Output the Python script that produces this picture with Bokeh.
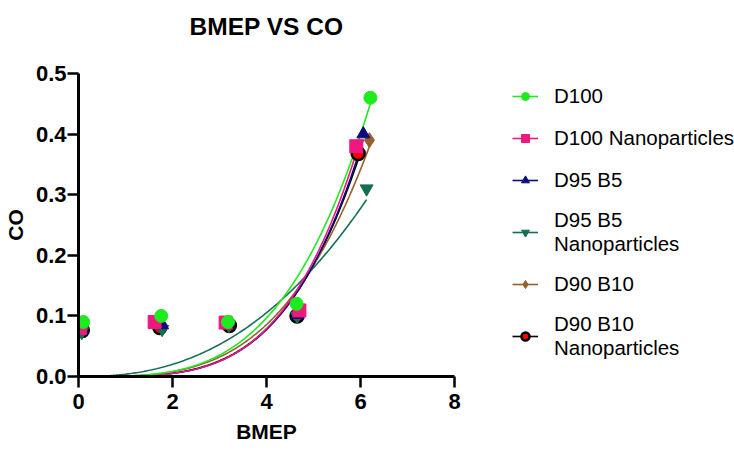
import numpy as np
from bokeh.plotting import figure
from bokeh.layouts import row
from bokeh.models import (Legend, LegendItem, Range1d, FixedTicker, Title,
                          NumeralTickFormatter, ColumnDataSource)
from bokeh.embed import file_html
from bokeh.resources import INLINE

# BMEP (x) and CO (y) readings for each fuel blend
bmep_d100 = [0.10, 1.76, 3.18, 4.64, 6.21]
co_d100 = [0.090, 0.100, 0.090, 0.120, 0.460]

bmep_d100_np = [0.03, 1.62, 3.13, 4.70, 5.91]
co_d100_np = [0.080, 0.090, 0.089, 0.109, 0.380]

bmep_d95b5 = [0.08, 1.78, 3.20, 4.66, 6.06]
co_d95b5 = [0.077, 0.085, 0.085, 0.102, 0.400]

bmep_d95b5_np = [0.07, 1.78, 3.20, 4.65, 6.13]
co_d95b5_np = [0.073, 0.078, 0.085, 0.100, 0.310]

bmep_d90b10 = [0.10, 1.78, 3.20, 4.66, 6.19]
co_d90b10 = [0.080, 0.085, 0.085, 0.102, 0.390]

bmep_d90b10_np = [0.08, 1.73, 3.21, 4.65, 5.95]
co_d90b10_np = [0.076, 0.081, 0.084, 0.100, 0.368]

series_names = ["D100", "D100 Nanoparticles", "D95 B5",
                "D95 B5\nNanoparticles", "D90 B10", "D90 B10\nNanoparticles"]

x_ticks = [0, 2, 4, 6, 8]
y_ticks = [0.0, 0.1, 0.2, 0.3, 0.4, 0.5]

FONT = "'Liberation Sans', Arial, sans-serif"


def power_fit(x, y):
    """Least-squares fit of y = a * x**b (grid over b, closed form for a)."""
    x = np.asarray(x, dtype=float)
    y = np.asarray(y, dtype=float)
    best = None
    for b in np.arange(1.0, 8.0, 0.01):
        xb = x ** b
        a = (y * xb).sum() / (xb * xb).sum()
        sse = ((y - a * xb) ** 2).sum()
        if best is None or sse < best[0]:
            best = (sse, a, b)
    return best[1], best[2]


# ---- main chart ----
p = figure(width=480, height=452, output_backend="svg", toolbar_location=None,
           x_range=Range1d(0, 8), y_range=Range1d(0, 0.5),
           min_border_left=78, min_border_right=26,
           min_border_top=73, min_border_bottom=76)

p.title.text = "BMEP VS CO"
p.title.align = "center"
p.title.text_font = FONT
p.title.text_font_size = "24.5px"
p.title.text_font_style = "bold"
p.title.text_color = "black"
p.title.standoff = 20

# blank gap between the frame and the title
p.add_layout(Title(text=" ", text_font_size="1px", standoff=21), "above")

p.outline_line_color = None
p.background_fill_color = "white"
p.border_fill_color = "white"
p.grid.visible = False

for ax in (p.xaxis[0], p.yaxis[0]):
    ax.axis_line_width = 3
    ax.axis_line_color = "black"
    ax.major_tick_line_width = 2.5
    ax.major_tick_line_color = "black"
    ax.major_tick_out = 11
    ax.major_tick_in = 0
    ax.minor_tick_line_color = None
    ax.major_label_text_font = FONT
    ax.major_label_text_font_style = "bold"
    ax.major_label_text_font_size = "22px"
    ax.major_label_text_color = "black"
    ax.axis_label_text_font = FONT
    ax.axis_label_text_font_style = "bold"
    ax.axis_label_text_font_size = "21px"
    ax.axis_label_text_color = "black"

p.xaxis.ticker = FixedTicker(ticks=x_ticks)
p.yaxis.ticker = FixedTicker(ticks=y_ticks)
p.yaxis.formatter = NumeralTickFormatter(format="0.0")
p.xaxis.axis_label = "BMEP"
p.yaxis.axis_label = "CO"
p.xaxis.major_label_standoff = 6
p.yaxis.major_label_standoff = 1
p.xaxis.axis_label_standoff = 8
p.yaxis.axis_label_standoff = 6

styles = [
    dict(marker="circle", color="#1FEA1F", fill="#1FEA1F", lw=1),
    dict(marker="square", color="#F0187F", fill="#F0187F", lw=1),
    dict(marker="triangle", color="#0B0B7E", fill="#0B0B7E", lw=1),
    dict(marker="inverted_triangle", color="#166E52", fill="#166E52", lw=1),
    dict(marker="diamond", color="#95602A", fill="#95602A", lw=1),
    dict(marker="circle", color="#000000", fill="#FF0000", lw=2.5),
]

data = [
    (bmep_d100, co_d100),
    (bmep_d100_np, co_d100_np),
    (bmep_d95b5, co_d95b5),
    (bmep_d95b5_np, co_d95b5_np),
    (bmep_d90b10, co_d90b10),
    (bmep_d90b10_np, co_d90b10_np),
]


def marker_size(st):
    return 15 if st["marker"] == "diamond" else 13


point_sources = [ColumnDataSource(dict(x=xs, y=ys)) for xs, ys in data]
curve_sources = []
for xs, ys in data:
    a, b = power_fit(xs, ys)
    cx = np.linspace(0, max(xs), 200)
    curve_sources.append(ColumnDataSource(dict(x=cx, y=a * cx ** b)))

# fitted power curves, from the origin to the last reading (first series on top)
for i in reversed(range(len(data))):
    st = styles[i]
    p.line("x", "y", source=curve_sources[i], line_color=st["color"], line_width=1.6)

# markers, first series on top
for i in reversed(range(len(data))):
    st = styles[i]
    p.scatter("x", "y", source=point_sources[i], marker=st["marker"],
              size=marker_size(st), fill_color=st["fill"],
              line_color=st["color"], line_width=st["lw"])

# ---- legend panel: same series, ranges kept away from the data so only the key shows ----
lg = figure(width=254, height=452, output_backend="svg", toolbar_location=None,
            x_range=Range1d(100, 101), y_range=Range1d(100, 101),
            x_axis_location=None, y_axis_location=None,
            min_border_left=23, min_border_right=0,
            min_border_top=73, min_border_bottom=0,
            outline_line_color=None)
lg.grid.visible = False
lg.background_fill_color = "white"
lg.border_fill_color = "white"

items = []
for i, (name, st) in enumerate(zip(series_names, styles)):
    ln = lg.line("x", "y", source=curve_sources[i], line_color=st["color"], line_width=1.6)
    mk = lg.scatter("x", "y", source=point_sources[i], marker=st["marker"],
                    size=marker_size(st) - 2, fill_color=st["fill"],
                    line_color=st["color"], line_width=st["lw"])
    items.append(LegendItem(label=name, renderers=[ln, mk]))

legend = Legend(items=items, location="top_left",
                label_text_font=FONT, label_text_font_size="20.5px",
                label_text_color="black",
                label_standoff=16, label_height=28,
                glyph_width=26, glyph_height=20,
                spacing=14, padding=0, margin=9,
                border_line_color=None, background_fill_alpha=0)
lg.add_layout(legend, "center")

open("out.html", "w").write(file_html(row(p, lg), INLINE))
